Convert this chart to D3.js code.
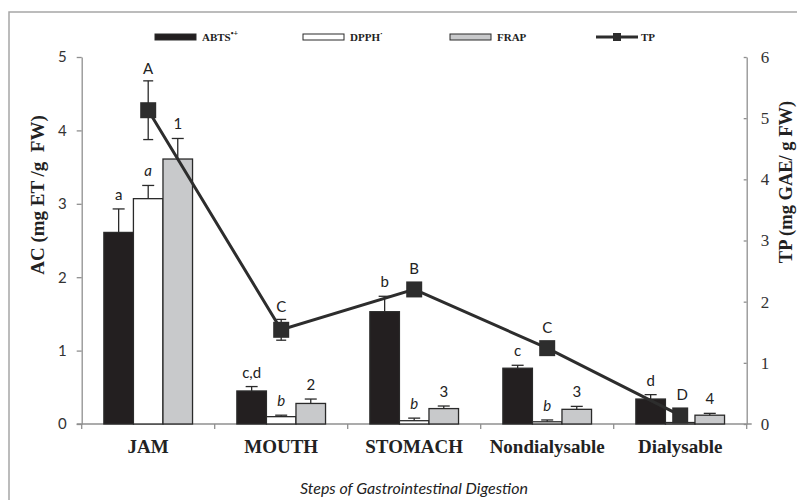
<!DOCTYPE html>
<html>
<head>
<meta charset="utf-8">
<script src="https://cdn.jsdelivr.net/npm/d3@7/dist/d3.min.js"></script>
<style>
  html, body { margin: 0; padding: 0; background: #fff; }
  svg { display: block; }
  .pre { white-space: pre; }
</style>
</head>
<body>
<svg id="chart" width="797" height="500"></svg>
<script>
// Digestion steps
const categories = ["JAM", "MOUTH", "STOMACH", "Nondialysable", "Dialysable"];
// Antioxidant capacity (mg ET / g FW), bars
const abts     = [2.61, 0.45, 1.53, 0.76, 0.34];
const abtsErr  = [0.32, 0.06, 0.21, 0.04, 0.06];
const abtsLbl  = ["a", "c,d", "b", "c", "d"];
const dpph     = [3.07, 0.10, 0.045, 0.03, 0.02];
const dpphErr  = [0.18, 0.02, 0.035, 0.025, 0];
const dpphLbl  = ["a", "b", "b", "b", ""];
const frap     = [3.61, 0.28, 0.21, 0.20, 0.12];
const frapErr  = [0.28, 0.06, 0.035, 0.04, 0.025];
const frapLbl  = ["1", "2", "3", "3", "4"];
// Total phenolics (mg GAE / g FW), line
const tp       = [5.13, 1.54, 2.20, 1.24, 0.14];
const tpErr    = [0.48, 0.17, 0.07, 0.03, 0];
const tpLbl    = ["A", "C", "B", "C", "D"];
// Axis ticks
const leftTicks  = [0, 1, 2, 3, 4, 5];
const rightTicks = [0, 1, 2, 3, 4, 5, 6];

const series = [
  { key: "ABTS", values: abts, err: abtsErr, labels: abtsLbl, fill: "#231f20", italic: false },
  { key: "DPPH", values: dpph, err: dpphErr, labels: dpphLbl, fill: "#ffffff", italic: true },
  { key: "FRAP", values: frap, err: frapErr, labels: frapLbl, fill: "#c8c9cb", italic: false }
];

const svg = d3.select("#chart");
const axisCol = "#8f8f8f";
const sans = "Lato, 'Open Sans', sans-serif";
const serif = "'Liberation Serif', 'DejaVu Serif', serif";

// outer frame (runs past the right and bottom edges)
svg.append("rect").attr("x", 9).attr("y", 12).attr("width", 800).attr("height", 500)
  .attr("fill", "none").attr("stroke", "#a6a6a6").attr("stroke-width", 1.5);

const x0 = 81.7, x1 = 746.7, yBase = 424, yTop = 57;
const x = d3.scaleBand().domain(categories).range([x0, x1]).padding(0);
const xs = d3.scaleBand().domain(series.map(s => s.key)).range([0, x.bandwidth()]).paddingOuter(0.75).paddingInner(0);
const yL = d3.scaleLinear().domain([0, 5]).range([yBase, yTop]);
const yR = d3.scaleLinear().domain([0, 6]).range([yBase, yTop]);

// left axis
const gL = svg.append("g").attr("transform", `translate(${x0},0)`)
  .call(d3.axisLeft(yL).tickValues(leftTicks).tickFormat(d3.format("d"))
    .tickSize(5).tickSizeOuter(0).tickPadding(10));
gL.select(".domain").attr("stroke", axisCol).attr("stroke-width", 1.3);
gL.selectAll(".tick line").attr("stroke", axisCol).attr("stroke-width", 1.3);
gL.selectAll(".tick text").attr("font-family", sans).attr("font-size", 15).attr("fill", "#333");

// right axis
const gR = svg.append("g").attr("transform", `translate(${x1},0)`)
  .call(d3.axisRight(yR).tickValues(rightTicks).tickFormat(d3.format("d"))
    .tickSize(-3).tickSizeOuter(0).tickPadding(14));
gR.select(".domain").attr("stroke", axisCol).attr("stroke-width", 1.3);
gR.selectAll(".tick line").attr("stroke", axisCol).attr("stroke-width", 1.3);
gR.selectAll(".tick text").attr("font-family", serif).attr("font-size", 17).attr("fill", "#333");

// category axis
const gX = svg.append("g").attr("transform", `translate(0,${yBase})`);
gX.append("line").attr("x1", x0 - 5).attr("x2", x1 + 5).attr("stroke", axisCol).attr("stroke-width", 1.3);
const bounds = categories.map(c => x(c)).concat([x1]);
gX.selectAll("line.bt").data(bounds).join("line").attr("class", "bt")
  .attr("x1", d => d).attr("x2", d => d).attr("y1", 0).attr("y2", 5)
  .attr("stroke", axisCol).attr("stroke-width", 1.3);
gX.selectAll("text").data(categories).join("text")
  .attr("x", d => x(d) + x.bandwidth() / 2).attr("y", 29)
  .attr("text-anchor", "middle").attr("font-family", serif).attr("font-weight", "bold")
  .attr("font-size", 19).attr("fill", "#222").text(d => d);

// bars with upward error bars and letters
const capW = 12;
series.forEach(s => {
  const g = svg.append("g");
  categories.forEach((c, i) => {
    const bx = x(c) + xs(s.key), bw = xs.bandwidth();
    const v = s.values[i], e = s.err[i];
    g.append("rect").attr("x", bx).attr("y", yL(v)).attr("width", bw).attr("height", yBase - yL(v))
      .attr("fill", s.fill).attr("stroke", "#2a2a2a").attr("stroke-width", 1.3);
    const cx = bx + bw / 2;
    if (e > 0) {
      g.append("line").attr("x1", cx).attr("x2", cx).attr("y1", yL(v)).attr("y2", yL(v + e))
        .attr("stroke", "#2a2a2a").attr("stroke-width", 1.3);
      g.append("line").attr("x1", cx - capW / 2).attr("x2", cx + capW / 2).attr("y1", yL(v + e)).attr("y2", yL(v + e))
        .attr("stroke", "#2a2a2a").attr("stroke-width", 1.3);
    }
    if (s.labels[i]) {
      g.append("text").attr("x", cx).attr("y", yL(v + e) - 9)
        .attr("text-anchor", "middle").attr("font-family", sans).attr("font-size", 15)
        .attr("font-style", s.italic ? "italic" : "normal").attr("fill", "#222").text(s.labels[i]);
    }
  });
});

// total phenolics line
const cxCat = c => x(c) + x.bandwidth() / 2;
const line = d3.line().x((d, i) => cxCat(categories[i])).y(d => yR(d));
svg.append("path").datum(tp).attr("d", line).attr("fill", "none")
  .attr("stroke", "#2d2d2d").attr("stroke-width", 3);
const gT = svg.append("g");
categories.forEach((c, i) => {
  const cx = cxCat(c), v = tp[i], e = tpErr[i];
  if (e > 0) {
    [v + e, v - e].forEach(t => {
      gT.append("line").attr("x1", cx).attr("x2", cx).attr("y1", yR(v)).attr("y2", yR(t))
        .attr("stroke", "#2a2a2a").attr("stroke-width", 1.3);
      gT.append("line").attr("x1", cx - 5).attr("x2", cx + 5).attr("y1", yR(t)).attr("y2", yR(t))
        .attr("stroke", "#2a2a2a").attr("stroke-width", 1.3);
    });
  }
  gT.append("rect").attr("x", cx - 8).attr("y", yR(v) - 8).attr("width", 16).attr("height", 16)
    .attr("fill", "#2d2d2d");
  const top = Math.min(yR(v + e), yR(v) - 8);
  gT.append("text").attr("x", cx + (i === 4 ? 2 : 0)).attr("y", top - 7)
    .attr("text-anchor", "middle").attr("font-family", sans).attr("font-size", 15)
    .attr("fill", "#222").text(tpLbl[i]);
});

// axis titles
svg.append("text").attr("class", "pre").attr("transform", "translate(44,195) rotate(-90)")
  .attr("text-anchor", "middle").attr("font-family", serif).attr("font-weight", "bold")
  .attr("font-size", 19).attr("fill", "#222").text("AC (mg ET /g  FW)");
svg.append("text").attr("transform", "translate(792,182) rotate(-90)")
  .attr("text-anchor", "middle").attr("font-family", serif).attr("font-weight", "bold")
  .attr("font-size", 18.5).attr("fill", "#222").text("TP (mg GAE/ g FW)");
svg.append("text").attr("x", 414).attr("y", 494).attr("text-anchor", "middle")
  .attr("font-family", sans).attr("font-style", "italic").attr("font-size", 16)
  .attr("fill", "#222").text("Steps of Gastrointestinal Digestion");

// legend
const lg = svg.append("g").attr("font-family", serif).attr("font-weight", "bold")
  .attr("font-size", 11).attr("fill", "#222");
const legendItems = [
  { x: 155, fill: "#231f20", name: "ABTS", sup: "•+" },
  { x: 303, fill: "#ffffff", name: "DPPH", sup: "·" },
  { x: 450, fill: "#c8c9cb", name: "FRAP", sup: "" }
];
legendItems.forEach(it => {
  lg.append("rect").attr("x", it.x).attr("y", 34).attr("width", 41).attr("height", 6)
    .attr("fill", it.fill).attr("stroke", "#2a2a2a").attr("stroke-width", 1);
  const t = lg.append("text").attr("x", it.x + 47).attr("y", 41);
  t.append("tspan").text(it.name);
  if (it.sup) t.append("tspan").attr("dy", -5).attr("font-size", 8).text(it.sup);
});
lg.append("line").attr("x1", 596).attr("x2", 638).attr("y1", 37).attr("y2", 37)
  .attr("stroke", "#2d2d2d").attr("stroke-width", 3);
lg.append("rect").attr("x", 613).attr("y", 33).attr("width", 8).attr("height", 8).attr("fill", "#2d2d2d");
lg.append("text").attr("x", 641).attr("y", 41).text("TP");
</script>
</body>
</html>
